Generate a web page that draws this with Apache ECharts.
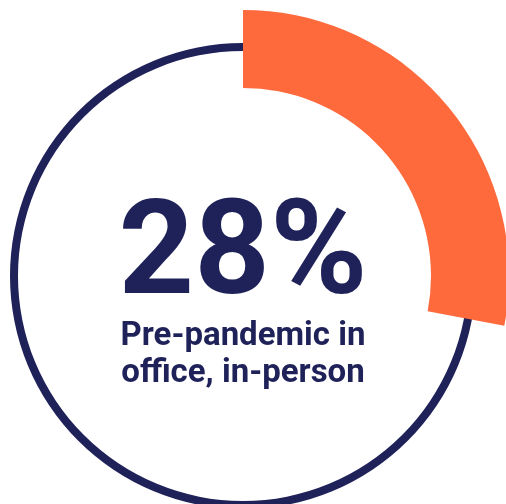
<!DOCTYPE html>
<html>
<head>
<meta charset="utf-8">
<style>
  html, body { margin: 0; padding: 0; background: #ffffff; }
  #chart { width: 506px; height: 504px; }
</style>
<script src="https://cdn.jsdelivr.net/npm/echarts@6/dist/echarts.min.js"></script>
</head>
<body>
<div id="chart"></div>
<script>
// Share of work done in office, in person before the pandemic
const categories = ['Pre-pandemic in office, in-person', 'Other'];
const shareValues = [28, 72];
const headline = shareValues[0] + '%';
const captionLines = ['Pre-pandemic in', 'office, in-person'];

const NAVY = '#1f2159';
const ORANGE = '#ff6a3d';
const CX = 243, CY = 276;

const chart = echarts.init(document.getElementById('chart'), null, { renderer: 'canvas' });

chart.setOption({
  animation: false,
  backgroundColor: '#ffffff',
  series: [
    {
      // thin outline ring
      type: 'pie',
      silent: true,
      center: [CX, CY],
      radius: [225, 233],
      startAngle: 90,
      label: { show: false },
      labelLine: { show: false },
      data: [{ value: 100, name: 'ring', itemStyle: { color: NAVY } }],
      z: 1
    },
    {
      // highlighted share band
      type: 'pie',
      silent: true,
      center: [CX, CY],
      radius: [188, 266],
      startAngle: 90,
      clockwise: true,
      label: { show: false },
      labelLine: { show: false },
      data: categories.map((name, i) => ({
        name,
        value: shareValues[i],
        itemStyle: { color: i === 0 ? ORANGE : 'rgba(0,0,0,0)' }
      })),
      z: 2
    }
  ],
  graphic: [
    {
      type: 'text',
      style: {
        x: CX,
        y: 326,
        text: headline,
        font: 'bold 132px Roboto',
        fill: NAVY,
        textAlign: 'center',
        textVerticalAlign: 'bottom'
      },
      z: 10
    },
    {
      type: 'text',
      style: {
        x: CX,
        y: 353,
        text: captionLines[0],
        font: 'bold 33px Roboto',
        fill: NAVY,
        textAlign: 'center',
        textVerticalAlign: 'bottom'
      },
      z: 10
    },
    {
      type: 'text',
      style: {
        x: CX,
        y: 390,
        text: captionLines[1],
        font: 'bold 33px Roboto',
        fill: NAVY,
        textAlign: 'center',
        textVerticalAlign: 'bottom'
      },
      z: 10
    }
  ]
});
</script>
</body>
</html>
